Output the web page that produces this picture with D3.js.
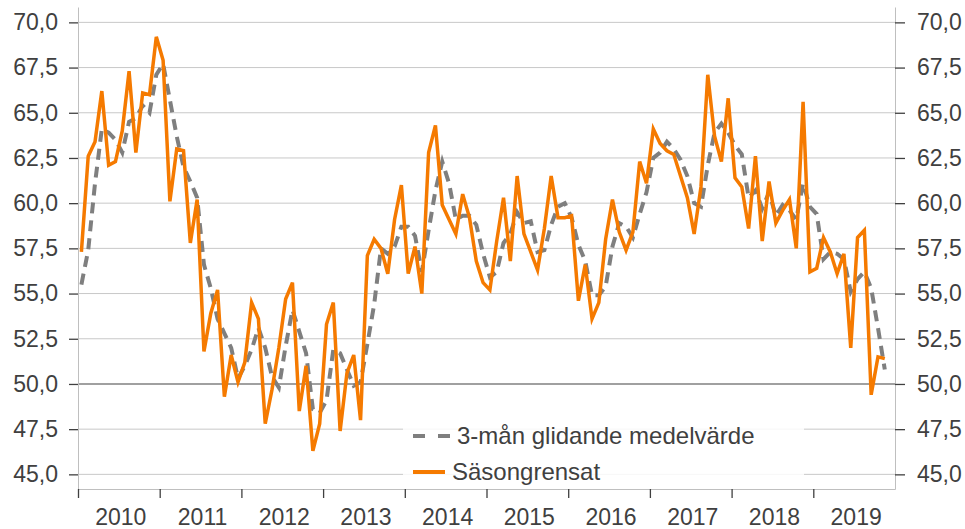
<!DOCTYPE html>
<html>
<head>
<meta charset="utf-8">
<script src="https://cdn.jsdelivr.net/npm/d3@7"></script>
<style>
  body { margin: 0; background: #fff; }
  svg text { font-family: "Liberation Sans", Arial, sans-serif; fill: #404040; }
</style>
</head>
<body>
<svg id="chart"></svg>
<script>
// Chart size
const width = 965;
const height = 529;

// Year labels on the x axis (monthly data, Jan 2010 onward)
const years = [2010, 2011, 2012, 2013, 2014, 2015, 2016, 2017, 2018, 2019];

// Y ticks
const yTicks = [45, 47.5, 50, 52.5, 55, 57.5, 60, 62.5, 65, 67.5, 70];

// Seasonally adjusted series (Säsongrensat), monthly
const sasongrensat = [
  57.3, 62.6, 63.4, 66.2, 62.1, 62.3, 64.0, 67.3, 62.8, 66.1, 66.0, 69.2,
  67.9, 60.1, 63.0, 62.9, 57.8, 60.2, 51.8, 53.9, 55.2, 49.3, 51.6, 50.1,
  51.2, 54.5, 53.6, 47.8, 49.7, 52.0, 54.7, 55.6, 48.5, 51.0, 46.3, 47.8,
  53.3, 54.5, 47.4, 50.6, 51.6, 48.0, 57.1, 58.0, 57.5, 56.1, 59.1, 61.0,
  56.1, 57.6, 55.0, 62.8, 64.3, 59.9, 59.1, 58.3, 60.5, 59.2, 56.8, 55.6,
  55.2, 57.9, 60.3, 56.8, 61.5, 58.3, 57.3, 56.3, 58.6, 61.5, 59.2, 59.2,
  59.3, 54.6, 56.6, 53.6, 54.5, 58.0, 60.2, 58.4, 57.4, 58.4, 62.3, 61.1,
  64.1, 63.3, 62.9, 62.7, 61.5, 60.3, 58.3, 60.9, 67.1, 63.7, 62.3, 65.8,
  61.4, 60.9, 58.6, 62.6, 57.9, 61.2, 58.9, 59.6, 60.2, 57.5, 65.6, 56.2,
  56.4, 58.1, 57.3, 56.1, 57.2, 52.0, 58.1, 58.5, 49.4, 51.5, 51.4
];

// 3-month moving average (3-mån glidande medelvärde), monthly
const glidande = [
  55.5, 57.4, 61.1, 64.1, 63.9, 63.5, 62.8, 64.5, 64.7, 65.4, 65.0, 67.1,
  67.7, 65.7, 63.7, 62.0, 61.2, 60.3, 56.6, 55.3, 53.6, 52.8, 52.0, 50.3,
  51.0, 51.9, 53.1, 52.0, 50.4, 49.8, 52.1, 54.1, 52.9, 51.7, 48.6, 48.4,
  49.1, 51.9, 51.7, 50.8, 49.9, 50.1, 52.2, 54.4, 57.5, 57.2, 57.6, 58.7,
  58.7, 58.2, 56.2, 58.5, 60.7, 62.3, 61.1, 59.1, 59.3, 59.3, 58.8, 57.2,
  55.9, 56.2, 57.8, 58.3, 59.5, 58.9, 59.0, 57.3, 57.4, 58.8, 59.8, 60.0,
  59.2, 57.7, 56.8, 54.9, 54.9, 55.4, 57.6, 58.9, 58.7, 58.1, 59.4, 60.6,
  62.5, 62.8, 63.4, 63.0, 62.4, 61.5, 60.0, 59.8, 62.1, 63.9, 64.4, 63.9,
  63.2, 62.7, 60.3, 60.7, 59.7, 60.6, 59.3, 59.9, 59.6, 59.1, 61.1, 59.8,
  59.4, 56.9, 57.3, 57.2, 56.9, 55.1, 55.8, 56.2, 55.3, 53.1, 50.8
];

const legendLabels = ["3-mån glidande medelvärde", "Säsongrensat"];

const plotLeft = 78, plotRight = 895, plotTop = 7, plotBottom = 489;
const fontSize = 23;

const svg = d3.select("#chart")
  .attr("width", width)
  .attr("height", height);

// Scales: months on x, index value on y
const x = d3.scaleLinear()
  .domain([0, years.length * 12])
  .range([plotLeft, plotRight]);

const y = d3.scaleLinear()
  .domain([44.19, 70.85])
  .range([plotBottom, plotTop]);

const fmt = d => d3.format(".1f")(d).replace(".", ",");

// Gridlines
svg.append("g")
  .selectAll("line")
  .data(yTicks)
  .enter()
  .append("line")
  .attr("x1", plotLeft)
  .attr("x2", plotRight)
  .attr("y1", d => y(d))
  .attr("y2", d => y(d))
  .attr("stroke", d => d === 50 ? "#808080" : "#c8c8c8")
  .attr("stroke-width", d => d === 50 ? 1.6 : 1);

// Left axis
const leftAxis = svg.append("g")
  .attr("transform", `translate(${plotLeft},0)`)
  .call(d3.axisLeft(y).tickValues(yTicks).tickFormat(fmt).tickSize(9).tickSizeOuter(0).tickPadding(11));

// Right axis
const rightAxis = svg.append("g")
  .attr("transform", `translate(${plotRight},0)`)
  .call(d3.axisRight(y).tickValues(yTicks).tickFormat(fmt).tickSize(10).tickSizeOuter(0).tickPadding(12));

// Bottom axis, ticks at year boundaries
const bottomAxis = svg.append("g")
  .attr("transform", `translate(0,${plotBottom})`)
  .call(d3.axisBottom(x).tickValues(years.map((d, i) => i * 12)).tickFormat("").tickSize(9).tickSizeOuter(0));

[leftAxis, rightAxis, bottomAxis].forEach(g => {
  g.select(".domain").attr("stroke", "#bfbfbf").attr("stroke-width", 1);
  g.selectAll(".tick line").attr("stroke", "#404040").attr("stroke-width", 1.3);
  g.selectAll(".tick text")
    .style("font-size", fontSize + "px")
    .style("font-family", "'Liberation Sans', Arial, sans-serif")
    .attr("fill", "#404040");
});

// Year labels centred in each year
svg.append("g")
  .selectAll("text")
  .data(years)
  .enter()
  .append("text")
  .attr("x", (d, i) => x(i * 12 + 6) + 2)
  .attr("y", 525)
  .attr("text-anchor", "middle")
  .style("font-size", fontSize + "px")
  .text(d => d);

// Lines
const line = d3.line()
  .x((d, i) => x(i + 0.5))
  .y(d => y(d));

svg.append("path")
  .datum(glidande)
  .attr("fill", "none")
  .attr("stroke", "#7f7f7f")
  .attr("stroke-width", 4)
  .attr("stroke-dasharray", "11,7")
  .attr("d", line);

svg.append("path")
  .datum(sasongrensat)
  .attr("fill", "none")
  .attr("stroke", "#f57a00")
  .attr("stroke-width", 3.5)
  .attr("stroke-linejoin", "miter")
  .attr("d", line);

// Legend
const legend = svg.append("g");
legend.append("rect")
  .attr("x", 403)
  .attr("y", 414)
  .attr("width", 401)
  .attr("height", 73)
  .attr("fill", "#fff")
  .attr("fill-opacity", 0.85);

legend.append("line")
  .attr("x1", 413).attr("x2", 451)
  .attr("y1", 436).attr("y2", 436)
  .attr("stroke", "#7f7f7f")
  .attr("stroke-width", 4)
  .attr("stroke-dasharray", "12,13");

legend.append("line")
  .attr("x1", 413).attr("x2", 445)
  .attr("y1", 472).attr("y2", 472)
  .attr("stroke", "#f57a00")
  .attr("stroke-width", 4);

legend.selectAll("text")
  .data(legendLabels)
  .enter()
  .append("text")
  .attr("x", (d, i) => i === 0 ? 457 : 452)
  .attr("y", (d, i) => i === 0 ? 444 : 480)
  .style("font-size", "24px")
  .text(d => d);
</script>
</body>
</html>
